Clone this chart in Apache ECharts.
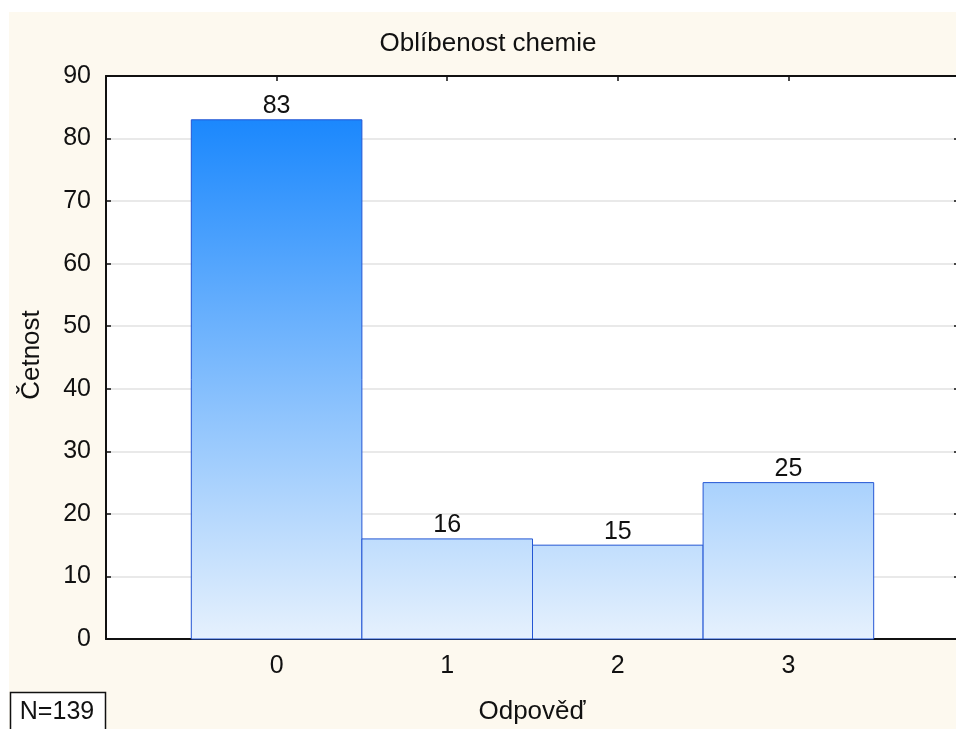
<!DOCTYPE html>
<html>
<head>
<meta charset="utf-8">
<script src="https://cdn.jsdelivr.net/npm/echarts@6/dist/echarts.min.js"></script>
<style>
  html, body { margin: 0; padding: 0; background: #ffffff; }
  #chart { width: 956px; height: 729px; }
</style>
</head>
<body>
<div id="chart"></div>
<script>
// Frequency of answers to "how much do you like chemistry"
const categories = ['0', '1', '2', '3'];
const counts = [83, 16, 15, 25];
const yTicks = [0, 10, 20, 30, 40, 50, 60, 70, 80, 90];
const chartTitle = 'Oblíbenost chemie';
const xName = 'Odpověď';
const yName = 'Četnost';
const nLabel = 'N=139';

const FONT = '"Liberation Sans", Arial, sans-serif';
const chart = echarts.init(document.getElementById('chart'));

const barData = counts.map((v, i) => [i, v]);

function renderBar(params, api) {
  const idx = api.value(0);
  const val = api.value(1);
  const p0 = api.coord([idx - 0.5, 0]);
  const p1 = api.coord([idx + 0.5, val]);
  const top = api.coord([0, yTicks[yTicks.length - 1]])[1];
  const bottom = api.coord([0, 0])[1];
  const fill = new echarts.graphic.LinearGradient(0, top, 0, bottom, [
    { offset: 0, color: '#0a7ffd' },
    { offset: 1, color: '#e6f1fd' }
  ], true);
  return {
    type: 'group',
    children: [
      {
        type: 'rect',
        shape: { x: p0[0], y: p1[1], width: p1[0] - p0[0], height: p0[1] - p1[1] },
        style: { fill: fill, stroke: '#2456d4', lineWidth: 1 }
      },
      {
        type: 'text',
        x: (p0[0] + p1[0]) / 2,
        y: p1[1] - 1,
        style: {
          text: String(val),
          fill: '#111111',
          font: '25px ' + FONT,
          align: 'center',
          verticalAlign: 'bottom'
        }
      }
    ]
  };
}

const axisLineStyle = { color: '#111111', width: 2 };
const tickStyle = { color: '#111111', width: 1.5 };

chart.setOption({
  backgroundColor: '#fdf9ef',
  animation: false,
  grid: {
    left: 106, right: -3, top: 76, bottom: 90,
    containLabel: false,
    outerBoundsMode: 'none',
    show: true, backgroundColor: '#ffffff', borderWidth: 0
  },
  xAxis: [
    {
      type: 'value', position: 'bottom', min: -1, max: 4, interval: 1,
      axisLine: { show: true, onZero: false, lineStyle: axisLineStyle },
      axisTick: { show: true, inside: true, length: 5, lineStyle: tickStyle },
      axisLabel: {
        color: '#111111', fontSize: 25, fontFamily: FONT, margin: 15,
        formatter: v => (categories[v] !== undefined ? categories[v] : '')
      },
      splitLine: { show: false }
    },
    {
      type: 'value', position: 'top', min: -1, max: 4, interval: 1,
      axisLine: { show: true, onZero: false, lineStyle: axisLineStyle },
      axisTick: { show: true, inside: true, length: 5, lineStyle: tickStyle },
      axisLabel: { show: false },
      splitLine: { show: false }
    }
  ],
  yAxis: [
    {
      type: 'value', position: 'left', min: yTicks[0], max: yTicks[yTicks.length - 1], interval: 10,
      axisLine: { show: true, onZero: false, lineStyle: axisLineStyle },
      axisTick: { show: true, inside: true, length: 5, lineStyle: tickStyle },
      axisLabel: { color: '#111111', fontSize: 25, fontFamily: FONT, margin: 15 },
      splitLine: { show: true, lineStyle: { color: '#e2e2e2', width: 1.5 } }
    },
    {
      type: 'value', position: 'right', min: yTicks[0], max: yTicks[yTicks.length - 1], interval: 10,
      axisLine: { show: true, onZero: false, lineStyle: axisLineStyle },
      axisTick: { show: true, inside: true, length: 5, lineStyle: tickStyle },
      axisLabel: { show: false },
      splitLine: { show: false }
    }
  ],
  series: [
    {
      type: 'custom',
      xAxisIndex: 0,
      yAxisIndex: 0,
      renderItem: renderBar,
      data: barData,
      clip: false
    }
  ],
  graphic: [
    {
      type: 'rect', left: 0, top: 0, z: -10, silent: true,
      shape: { width: 9, height: 729 }, style: { fill: '#ffffff' }
    },
    {
      type: 'rect', left: 0, top: 0, z: -10, silent: true,
      shape: { width: 956, height: 12 }, style: { fill: '#ffffff' }
    },
    {
      type: 'text', x: 488, y: 44, silent: true,
      style: { text: chartTitle, font: '26px ' + FONT, fill: '#111111', align: 'center', verticalAlign: 'middle' }
    },
    {
      type: 'text', x: 532, y: 712, silent: true,
      style: { text: xName, font: '26px ' + FONT, fill: '#111111', align: 'center', verticalAlign: 'middle' }
    },
    {
      type: 'text', x: 32, y: 355, rotation: Math.PI / 2, silent: true,
      style: { text: yName, font: '26px ' + FONT, fill: '#111111', align: 'center', verticalAlign: 'middle' }
    },
    {
      type: 'rect', silent: true,
      shape: { x: 10.5, y: 692.5, width: 95, height: 45 },
      style: { fill: '#ffffff', stroke: '#111111', lineWidth: 1.5 }
    },
    {
      type: 'text', x: 57, y: 712, silent: true,
      style: { text: nLabel, font: '25px ' + FONT, fill: '#111111', align: 'center', verticalAlign: 'middle' }
    }
  ]
});
</script>
</body>
</html>
